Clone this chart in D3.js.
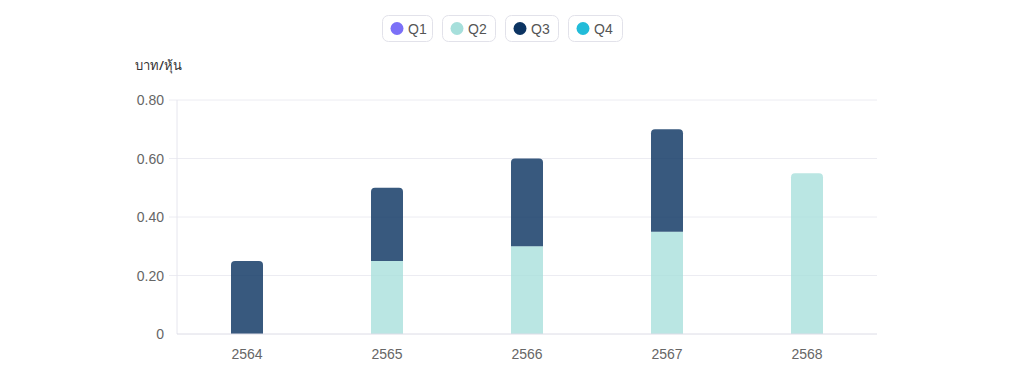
<!DOCTYPE html>
<html>
<head>
<meta charset="utf-8">
<script src="https://cdn.jsdelivr.net/npm/d3@7"></script>
<style>
  body { margin: 0; background: #fff; font-family: "Liberation Sans", Arial, sans-serif; }
</style>
</head>
<body>
<svg id="chart" width="1024" height="372"></svg>
<script>
const years = ['2564', '2565', '2566', '2567', '2568'];
const quarters = ['Q1', 'Q2', 'Q3', 'Q4'];
const q1 = [0, 0, 0, 0, 0];
const q2 = [0, 0.25, 0.30, 0.35, 0.55];
const q3 = [0.25, 0.25, 0.30, 0.35, 0];
const q4 = [0, 0, 0, 0, 0];
const yTicks = [0, 0.2, 0.4, 0.6, 0.8];
const colors = ['#7b70f7', '#a6dfdb', '#0c3462', '#22bcd9'];

const svg = d3.select('#chart');
const margin = { top: 100, left: 177, right: 147, bottom: 38 };
const width = 1024 - margin.left - margin.right;
const height = 372 - margin.top - margin.bottom;

// legend pills
const legendX = [382, 442, 505, 568];
const legendW = [50, 53, 53, 54];
const leg = svg.append('g');
quarters.forEach((q, i) => {
  const g = leg.append('g').attr('transform', `translate(${legendX[i]},15)`);
  g.append('rect')
    .attr('x', 0.5).attr('y', 0.5)
    .attr('width', legendW[i]).attr('height', 26)
    .attr('rx', 6)
    .attr('fill', '#fff')
    .attr('stroke', '#e2e2ea');
  g.append('circle').attr('cx', 15).attr('cy', 13.5).attr('r', 6.5).attr('fill', colors[i]);
  g.append('text')
    .attr('x', 26).attr('y', 18.5)
    .attr('font-size', 14)
    .attr('fill', '#555')
    .text(q);
});

const g = svg.append('g').attr('transform', `translate(${margin.left},${margin.top})`);

const x = d3.scaleBand().domain(years).range([0, width]);
const y = d3.scaleLinear().domain([0, 0.8]).range([height, 0]);

// grid
g.append('g')
  .selectAll('line')
  .data(yTicks.slice(1))
  .enter()
  .append('line')
  .attr('x1', -8).attr('x2', width)
  .attr('y1', d => y(d)).attr('y2', d => y(d))
  .attr('stroke', '#ececf2');

// y axis
g.append('line').attr('x1', 0).attr('x2', 0).attr('y1', 0).attr('y2', height).attr('stroke', '#e6e6ee');
g.append('g')
  .selectAll('text')
  .data(yTicks)
  .enter()
  .append('text')
  .attr('x', -13)
  .attr('y', d => y(d) + 5)
  .attr('text-anchor', 'end')
  .attr('font-size', 14)
  .attr('fill', '#666')
  .text(d => d === 0 ? '0' : d.toFixed(2));

svg.append('text')
  .attr('x', 135).attr('y', 70)
  .attr('font-size', 13)
  .attr('font-weight', 500)
  .attr('font-family', '"Noto Sans", sans-serif')
  .attr('fill', '#333')
  .text('บาท/หุ้น');

// stacked bars
const data = years.map((yr, i) => ({ year: yr, Q1: q1[i], Q2: q2[i], Q3: q3[i], Q4: q4[i] }));
const stack = d3.stack().keys(quarters)(data);
const barW = 32;

stack.forEach((layer, li) => {
  layer.forEach((d, i) => {
    if (d[1] - d[0] <= 0) return;
    // top segment gets rounded corners
    const isTop = stack.slice(li + 1).every(l => l[i][1] - l[i][0] <= 0);
    const x0 = x(years[i]) + x.bandwidth() / 2 - barW / 2;
    const yTop = y(d[1]);
    const yBot = y(d[0]);
    const r = isTop ? 4 : 0;
    const path = d3.path();
    path.moveTo(x0, yBot);
    path.lineTo(x0, yTop + r);
    if (r) path.quadraticCurveTo(x0, yTop, x0 + r, yTop);
    path.lineTo(x0 + barW - r, yTop);
    if (r) path.quadraticCurveTo(x0 + barW, yTop, x0 + barW, yTop + r);
    path.lineTo(x0 + barW, yBot);
    path.closePath();
    g.append('path')
      .attr('d', path.toString())
      .attr('fill', colors[li])
      .attr('fill-opacity', li === 2 ? 0.82 : 0.78);
  });
});

// x axis
g.append('line').attr('x1', 0).attr('x2', width).attr('y1', height).attr('y2', height).attr('stroke', '#dcdce6');
g.append('g')
  .selectAll('text')
  .data(years)
  .enter()
  .append('text')
  .attr('x', d => x(d) + x.bandwidth() / 2)
  .attr('y', height + 25)
  .attr('text-anchor', 'middle')
  .attr('font-size', 14)
  .attr('fill', '#666')
  .text(d => d);
</script>
</body>
</html>
